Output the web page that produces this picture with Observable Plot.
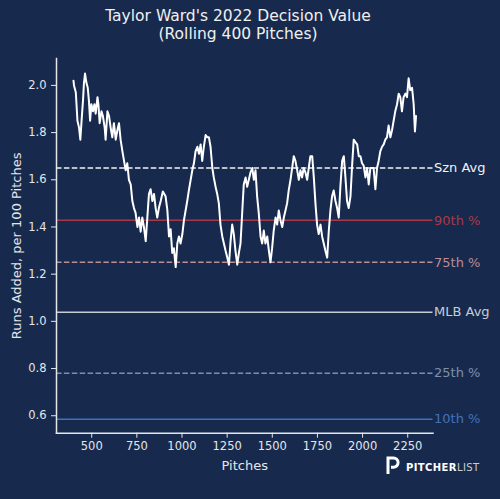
<!DOCTYPE html>
<html>
<head>
<meta charset="utf-8">
<script src="https://cdn.jsdelivr.net/npm/d3@7"></script>
<script src="https://cdn.jsdelivr.net/npm/@observablehq/plot@0.6"></script>
<style>
  html, body { margin: 0; padding: 0; }
  body { width: 500px; height: 499px; background: #172a4e; position: relative; overflow: hidden; font-family: "DejaVu Sans", sans-serif; }
  #title { position: absolute; left: 0; top: 8px; width: 476px; text-align: center; color: #f0f0f0; font-size: 15.5px; line-height: 17.5px; }
  #chart { position: absolute; left: 0; top: 50px; }
  #logo { position: absolute; left: 386px; top: 455px; height: 20px; display: flex; align-items: center; }
  #logo span.t { font-size: 10px; letter-spacing: 0.4px; color: #ffffff; margin-left: 6px; margin-top: 4px; }
  #logo b { font-weight: bold; }
  #logo i { font-style: normal; color: #c9cdd6; }
</style>
</head>
<body>
<div id="title">Taylor Ward's 2022 Decision Value<br>(Rolling 400 Pitches)</div>
<div id="chart"></div>
<div id="logo">
  <svg width="14" height="19" viewBox="0 0 14 19"><path d="M2 18 V2 H7.5 A4.6 4.6 0 0 1 7.5 11.2 H5" fill="none" stroke="#ffffff" stroke-width="3"/></svg>
  <span class="t"><b>PITCHER</b><i>LIST</i></span>
</div>
<script>
const pitches = [399,402,412,421,430,437,443,452,457,463,471,478,485,491,498,507,515,522,532,537,544,554,562,572,577,587,596,605,614,623,633,642,651,660,670,679,688,697,706,716,725,734,743,753,762,771,780,789,799,808,817,826,836,845,854,863,872,882,894,909,919,928,937,946,955,965,974,983,992,1002,1011,1020,1029,1038,1048,1057,1066,1075,1085,1094,1103,1112,1121,1131,1140,1149,1158,1168,1176,1186,1195,1204,1213,1223,1232,1241,1251,1260,1269,1278,1287,1296,1306,1315,1324,1334,1342,1352,1361,1370,1379,1389,1398,1407,1416,1425,1435,1444,1453,1462,1472,1481,1490,1499,1508,1518,1527,1536,1545,1555,1564,1573,1582,1591,1601,1610,1619,1628,1638,1647,1656,1665,1674,1684,1693,1702,1711,1721,1730,1739,1748,1757,1767,1776,1785,1794,1804,1813,1822,1831,1840,1850,1859,1868,1877,1887,1896,1905,1914,1923,1933,1942,1951,1960,1970,1979,1988,1997,2006,2016,2025,2034,2043,2052,2061,2071,2080,2089,2098,2108,2117,2126,2135,2144,2154,2163,2172,2181,2191,2200,2209,2218,2227,2237,2246,2255,2264,2274,2283,2290,2296];
const runsAdded = [2.02,2.00,1.97,1.85,1.82,1.77,1.84,1.94,2.01,2.05,2.01,1.99,1.93,1.85,1.92,1.89,1.92,1.88,1.95,1.92,1.84,1.89,1.87,1.82,1.77,1.89,1.87,1.82,1.78,1.84,1.77,1.81,1.84,1.77,1.72,1.68,1.64,1.67,1.60,1.58,1.51,1.48,1.46,1.40,1.44,1.38,1.44,1.40,1.34,1.44,1.54,1.56,1.51,1.54,1.48,1.44,1.48,1.51,1.55,1.53,1.47,1.36,1.39,1.29,1.31,1.23,1.33,1.36,1.33,1.37,1.43,1.47,1.51,1.555,1.60,1.64,1.67,1.72,1.74,1.71,1.75,1.68,1.74,1.79,1.78,1.78,1.74,1.65,1.61,1.57,1.54,1.50,1.41,1.36,1.33,1.30,1.27,1.24,1.34,1.41,1.37,1.30,1.24,1.29,1.33,1.47,1.58,1.61,1.57,1.60,1.63,1.65,1.60,1.64,1.53,1.46,1.36,1.33,1.385,1.33,1.36,1.30,1.25,1.31,1.385,1.44,1.41,1.47,1.43,1.40,1.44,1.47,1.50,1.555,1.60,1.65,1.70,1.68,1.64,1.60,1.64,1.61,1.65,1.63,1.60,1.65,1.70,1.70,1.61,1.50,1.41,1.37,1.41,1.36,1.33,1.30,1.27,1.385,1.47,1.53,1.555,1.51,1.48,1.44,1.57,1.68,1.70,1.61,1.51,1.48,1.53,1.66,1.77,1.76,1.75,1.70,1.70,1.67,1.66,1.61,1.65,1.58,1.65,1.65,1.65,1.56,1.65,1.68,1.72,1.74,1.75,1.77,1.78,1.83,1.78,1.81,1.85,1.89,1.92,1.965,1.95,1.89,1.95,1.965,1.95,2.03,1.98,1.99,1.92,1.805,1.87];

const refNames = ["Szn Avg", "90th %", "75th %", "MLB Avg", "25th %", "10th %"];
const refValues = [1.65, 1.428, 1.25, 1.039, 0.78, 0.585];
const xTicks = [500, 750, 1000, 1250, 1500, 1750, 2000, 2250];
const yTicks = [0.6, 0.8, 1.0, 1.2, 1.4, 1.6, 1.8, 2.0];

// styles (kept apart from data)
const refColors = ["#f2f2f2", "#a8394a", "#bd8c94", "#c9ccd3", "#7f90ad", "#3f72bb"];
const refDashed = [true, false, true, false, true, false];

const series = pitches.map((p, i) => ({pitch: p, value: runsAdded[i]}));
const refs = refNames.map((n, i) => ({name: n, value: refValues[i], dashed: refDashed[i]}));
const fg = "#e4e6ea";

const chart = Plot.plot({
  width: 500,
  height: 449,
  marginTop: 8,
  marginLeft: 56,
  marginRight: 67.5,
  marginBottom: 66.3,
  style: {background: "transparent", color: fg, fontFamily: "DejaVu Sans, sans-serif", overflow: "visible"},
  x: {domain: [305, 2390]},
  y: {domain: [0.526, 2.114]},
  color: {domain: refNames, range: refColors},
  marks: [
    Plot.ruleY(refs.filter(d => !d.dashed), {y: "value", stroke: "name", strokeWidth: 1.5}),
    Plot.ruleY(refs.filter(d => d.dashed), {y: "value", stroke: "name", strokeWidth: 1.5, strokeDasharray: "5.5,2.4"}),
    Plot.text(refs, {y: "value", text: "name", fill: "name", frameAnchor: "right", textAnchor: "start", dx: 1, fontSize: 13}),
    Plot.line(series, {x: "pitch", y: "value", stroke: "#ffffff", strokeWidth: 2, strokeLinejoin: "round"}),
    Plot.frame({anchor: "left", stroke: fg, strokeWidth: 1.5}),
    Plot.frame({anchor: "bottom", stroke: fg, strokeWidth: 1.5}),
    Plot.axisX({ticks: xTicks, tickSize: 5, tickPadding: 4, tickFormat: "d", fontSize: 11.5, label: null, color: fg}),
    Plot.axisY({ticks: yTicks, tickSize: 5, tickPadding: 5, tickFormat: ".1f", fontSize: 11.5, label: null, color: fg}),
    Plot.text(["Pitches"], {frameAnchor: "bottom", lineAnchor: "middle", dy: 32.3, fontSize: 13, fill: fg}),
    Plot.text(["Runs Added, per 100 Pitches"], {frameAnchor: "left", textAnchor: "middle", lineAnchor: "middle", dx: -40, rotate: -90, fontSize: 13, fill: fg})
  ]
});
document.getElementById("chart").appendChild(chart);
</script>
</body>
</html>
